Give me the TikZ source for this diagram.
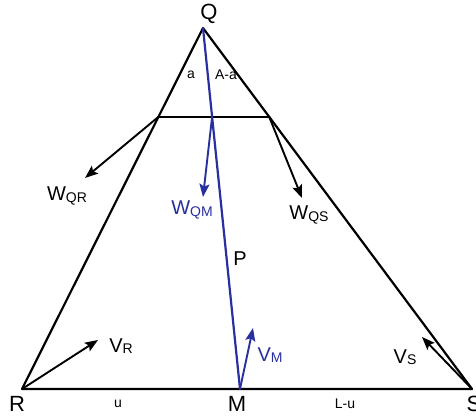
\documentclass[tikz,border=0pt]{standalone}
\usepackage{fontspec}
\setmainfont{Liberation Sans}
\usetikzlibrary{arrows.meta,calc}
\definecolor{vblue}{RGB}{40,48,160}
\newcommand\bigsub[2]{{\fontsize{20}{20}\selectfont #1\raisebox{-1.5pt}{\fontsize{14}{14}\selectfont #2}}}
\tikzset{
  edge/.style={line width=2.2pt, line cap=round, line join=round},
  vec/.style={line width=1.9pt, -{Stealth[length=13pt,width=10pt,inset=2.5pt]}},
  big/.style={font=\fontsize{22}{22}\selectfont, inner sep=0pt},
  lab/.style={inner sep=0pt},
  small/.style={font=\fontsize{14}{14}\selectfont, inner sep=0pt},
}
\begin{document}
\begin{tikzpicture}[x=1pt,y=-1pt]
\useasboundingbox (0,0) rectangle (476,417);
\fill[white] (0,0) rectangle (476,417);
\coordinate (Q) at (203,28);
\coordinate (R) at (22,389);
\coordinate (S) at (472,389);
\coordinate (M) at (240,389);
\coordinate (A) at ($(Q)!0.246!(R)$);
\coordinate (B) at ($(Q)!0.246!(S)$);
\coordinate (C) at ($(Q)!0.246!(M)$);
\coordinate (tQR) at (85,178);
\coordinate (tQM) at (203,197);
\coordinate (tQS) at (302,198);
\coordinate (tR) at (98,340);
\coordinate (tM) at (253,328);
\coordinate (tS) at (422,337);
% triangle
\draw[edge] (Q) -- (R) -- (S) -- cycle;
\draw[edge] (A) -- (B);
% blue line
\draw[edge, vblue] (Q) -- (M);
% vectors
\draw[vec] (A) -- (tQR);
\draw[vec] (B) -- (tQS);
\draw[vec, vblue] (C) -- (tQM);
\draw[vec] (R) -- (tR);
\draw[vec, vblue] (M) -- (tM);
\draw[vec] (S) -- (tS);
% labels
\node[big] (lQ) at (209,14) {Q};
\node[big] (lR) at (17,404) {R};
\node[big] (lM) at (237,404) {M};
\node[big] (lS) at (474,404) {S};
\node[small] (lu) at (118,404) {u};
\node[small] (lLu) at (345,404) {L-u};
\node[small] (la) at (191,75) {a};
\node[small] (lAa) at (226,75) {A-a};
\node[lab, font=\fontsize{20}{20}\selectfont] (lP) at (240,259) {P};
\node[lab] (lWQR) at (67,196) {\bigsub{W}{QR}};
\node[lab, text=vblue] (lWQM) at (192,210) {\bigsub{W}{QM}};
\node[lab] (lWQS) at (309,215) {\bigsub{W}{QS}};
\node[lab] (lVR) at (121,346) {\bigsub{V}{R}};
\node[lab, text=vblue] (lVM) at (270,355) {\bigsub{V}{M}};
\node[lab] (lVS) at (405,357) {\bigsub{V}{S}};
\end{tikzpicture}
\end{document}
